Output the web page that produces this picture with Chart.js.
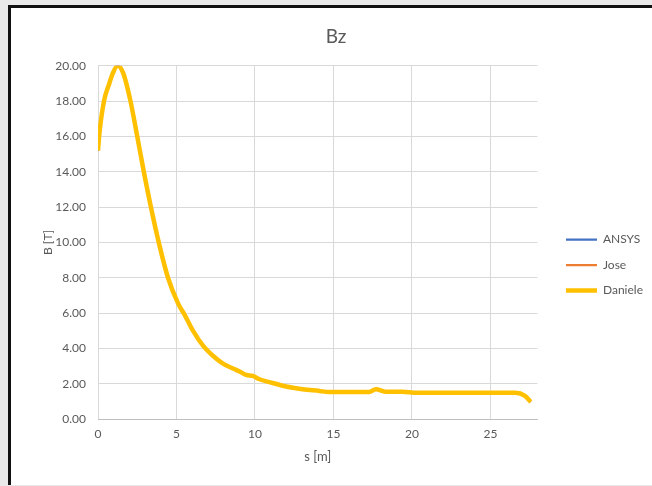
<!DOCTYPE html>
<html lang="en">
<head>
    <meta charset="UTF-8">
    <title>Bz</title>
    <script src="https://cdn.jsdelivr.net/npm/chart.js@4.4.0/dist/chart.umd.min.js"></script>
    <style>
        html, body { margin: 0; padding: 0; overflow: hidden; }
        body { width: 652px; height: 486px; background: #e9e9e9; position: relative; }
        #frame {
            position: absolute; left: 8px; top: 5px; width: 660px; height: 477px;
            background: #fff; border-top: 3px solid #111; border-left: 3px solid #111;
        }
        #chart { position: absolute; left: 11px; top: 8px; }
    </style>
</head>
<body>
    <div id="frame"></div>
    <canvas id="chart" width="650" height="477"></canvas>

    <script>
        // values
        const s = [0, 0.07, 0.38, 0.72, 0.91, 1.25, 1.6, 2.07, 2.5, 2.92, 3.37, 3.87, 4.46, 5.1, 5.52, 6.05, 6.69, 7.32, 7.96, 8.6, 9.02, 9.44, 9.86, 10.29, 10.92, 11.98, 13.03, 14.1, 14.7, 17.27, 17.7, 18.3, 19.4, 20.3, 24.0, 26.6, 27.2, 27.57];
        const ansys   = [15.2, 16.1, 18.1, 19.1, 19.6, 20.0, 19.6, 18.0, 16.0, 14.0, 12.0, 10.0, 8.0, 6.55, 5.9, 5.0, 4.15, 3.58, 3.14, 2.86, 2.69, 2.5, 2.44, 2.25, 2.09, 1.84, 1.69, 1.59, 1.53, 1.53, 1.69, 1.55, 1.55, 1.48, 1.48, 1.48, 1.31, 0.97];
        const jose    = [15.2, 16.0, 18.0, 19.0, 19.5, 20.0, 19.6, 18.0, 16.0, 14.0, 12.0, 10.0, 8.0, 6.55, 5.9, 5.0, 4.15, 3.58, 3.14, 2.86, 2.69, 2.5, 2.44, 2.25, 2.09, 1.84, 1.69, 1.59, 1.53, 1.53, 1.69, 1.55, 1.55, 1.48, 1.48, 1.48, 1.31, 0.97];
        const daniele = [15.2, 16.0, 18.0, 19.0, 19.5, 20.0, 19.6, 18.0, 16.0, 14.0, 12.0, 10.0, 8.0, 6.55, 5.9, 5.0, 4.15, 3.58, 3.14, 2.86, 2.69, 2.5, 2.44, 2.25, 2.09, 1.84, 1.69, 1.59, 1.53, 1.53, 1.69, 1.55, 1.55, 1.48, 1.48, 1.48, 1.31, 0.97];
        const xTicks = [0, 5, 10, 15, 20, 25];

        const pts = arr => arr.map((v, i) => ({x: s[i], y: v}));
        const grey = '#595959';
        const font = "Lato, 'Open Sans', sans-serif";

        // nudge the legend to where excel puts it
        const legendShift = {
            id: 'legendShift',
            afterLayout(chart) {
                const l = chart.legend;
                l.left += 15; l.right += 15;
                l.top += 20; l.bottom += 20;
            }
        };

        new Chart(document.getElementById('chart'), {
            type: 'line',
            data: {
                datasets: [
                    {label: 'ANSYS', data: pts(ansys), borderColor: '#4472C4', backgroundColor: '#4472C4', borderWidth: 2.25, order: 2},
                    {label: 'Jose', data: pts(jose), borderColor: '#ED7D31', backgroundColor: '#ED7D31', borderWidth: 2.25, order: 1},
                    {label: 'Daniele', data: pts(daniele), borderColor: '#FFC000', backgroundColor: '#FFC000', borderWidth: 4.5, order: 0}
                ]
            },
            options: {
                responsive: false,
                animation: false,
                cubicInterpolationMode: 'monotone',
                pointRadius: 0,
                layout: {padding: {left: 23, right: 23, top: 17, bottom: 20}},
                plugins: {
                    title: {display: true, text: 'Bz', color: grey, font: {family: font, size: 19, weight: 'normal'}, padding: {top: 0, bottom: 18}},
                    legend: {
                        position: 'right',
                        labels: {
                            color: grey, font: {family: font, size: 12},
                            usePointStyle: true, pointStyle: 'line', pointStyleWidth: 31, padding: 13.5,
                            sort: (a, b) => a.datasetIndex - b.datasetIndex
                        }
                    },
                    tooltip: {enabled: false}
                },
                scales: {
                    x: {
                        type: 'linear', min: 0, max: 28,
                        afterBuildTicks: sc => { sc.ticks = xTicks.map(v => ({value: v})); },
                        ticks: {color: grey, font: {family: font, size: 12}, padding: 8},
                        grid: {color: '#d9d9d9', drawTicks: false},
                        border: {color: '#bfbfbf'},
                        title: {display: true, text: 's [m]', color: grey, font: {family: font, size: 13}, padding: {top: 0, bottom: 0}}
                    },
                    y: {
                        min: 0, max: 20,
                        afterFit: sc => { sc.width = 64; },
                        ticks: {stepSize: 2, color: grey, font: {family: font, size: 12}, padding: 12, callback: v => v.toFixed(2)},
                        grid: {color: '#d9d9d9', drawTicks: false},
                        border: {display: false},
                        title: {display: true, text: 'B [T]', color: grey, font: {family: font, size: 12}, padding: {top: 7, bottom: 0}}
                    }
                }
            },
            plugins: [legendShift]
        });
    </script>
</body>
</html>
